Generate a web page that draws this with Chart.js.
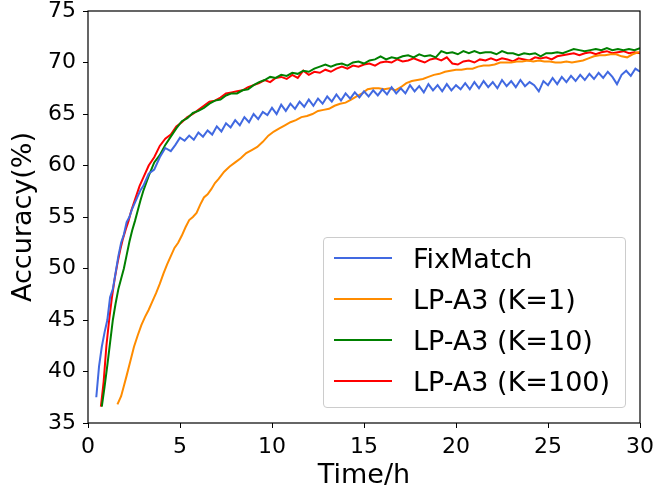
<!DOCTYPE html>
<html>
<head>
<meta charset="utf-8">
<script src="https://cdn.jsdelivr.net/npm/chart.js@4.4.0/dist/chart.umd.min.js"></script>
<style>
  html, body { margin: 0; padding: 0; background: #fff; }
  #wrap { position: relative; width: 657px; height: 488px; }
  #legend {
    position: absolute; left: 323px; top: 237px; width: 301px; height: 169px;
    border: 1px solid #cccccc; border-radius: 4px; background: rgba(255,255,255,0.8);
    font-family: 'DejaVu Sans', sans-serif; font-size: 27px; color: #000;
    padding-top: 0; box-sizing: content-box;
  }
  #legend .row { position: relative; height: 41px; line-height: 41px; }
  #legend .swatch { position: absolute; left: 10px; top: 19px; width: 58px; height: 0; border-top: 2.5px solid; }
  #legend .label { position: absolute; left: 89px; top: 0; white-space: nowrap; }
</style>
</head>
<body>
<div id="wrap">
  <canvas id="chart" width="657" height="488"></canvas>
  <div id="legend"></div>
</div>
<script>
const seriesNames = ['FixMatch', 'LP-A3 (K=1)', 'LP-A3 (K=10)', 'LP-A3 (K=100)'];
const seriesColors = ['#4169e1', '#ff8c00', '#008000', '#ff0000'];
const xTicks = [0, 5, 10, 15, 20, 25, 30];
const yTicks = [35, 40, 45, 50, 55, 60, 65, 70, 75];

// FixMatch
const fixmatchTime = [0.45, 0.6, 0.75, 0.9, 1.05, 1.2, 1.35, 1.5, 1.65, 1.8, 1.95, 2.1, 2.25, 2.4, 2.55, 2.7, 2.85,
  3.0, 3.3, 3.6, 3.9, 4.2, 4.5,
  4.75, 5.0, 5.25, 5.5, 5.75, 6.0, 6.25, 6.5, 6.75, 7.0, 7.25, 7.5, 7.75, 8.0, 8.25, 8.5, 8.75, 9.0, 9.25, 9.5, 9.75,
  10.0, 10.25, 10.5, 10.75, 11.0, 11.25, 11.5, 11.75, 12.0, 12.25, 12.5, 12.75, 13.0, 13.25, 13.5, 13.75, 14.0, 14.25,
  14.5, 14.75, 15.0, 15.25, 15.5, 15.75, 16.0, 16.25, 16.5, 16.75, 17.0, 17.25, 17.5, 17.75, 18.0, 18.25, 18.5, 18.75,
  19.0, 19.25, 19.5, 19.75, 20.0, 20.25, 20.5, 20.75, 21.0, 21.25, 21.5, 21.75, 22.0, 22.25, 22.5, 22.75, 23.0, 23.25,
  23.5, 23.75, 24.0, 24.25, 24.5, 24.75, 25.0, 25.25, 25.5, 25.75, 26.0, 26.25, 26.5, 26.75, 27.0, 27.25, 27.5, 27.75,
  28.0, 28.25, 28.5, 28.75, 29.0, 29.25, 29.5, 29.75, 30.0];
const fixmatchAcc = [37.5, 40.5, 42.4, 43.8, 45.0, 47.2, 48.0, 49.6, 51.2, 52.5, 53.3, 54.5, 55.0, 55.8, 56.4, 57.0, 57.6,
  58.0, 59.2, 59.6, 60.8, 61.7, 61.4,
  62.0, 62.7, 62.4, 62.9, 62.5, 63.2, 62.8, 63.4, 63.0, 63.8, 63.3, 64.1, 63.7, 64.4, 63.9, 64.7, 64.2, 65.0, 64.5, 65.2, 64.9,
  65.6, 65.0, 65.9, 65.3, 66.0, 65.5, 66.2, 65.7, 66.4, 65.8, 66.5, 66.0, 66.7, 66.2, 66.9, 66.3, 67.0, 66.5,
  67.1, 66.6, 67.2, 66.7, 67.3, 66.8, 67.4, 66.9, 67.6, 67.0, 67.5, 67.0, 67.8, 67.2, 67.7, 67.1, 67.9, 67.3,
  67.8, 67.2, 67.9, 67.3, 67.8, 67.4, 68.0, 67.4, 68.1, 67.5, 68.2, 67.6, 68.1, 67.5, 68.3, 67.7, 68.2, 67.6,
  68.3, 67.7, 68.1, 67.8, 67.2, 68.2, 67.8, 68.5, 67.9, 68.6, 68.1, 68.7, 68.2, 68.8, 68.3, 68.9, 68.4, 69.0,
  68.5, 69.1, 68.6, 67.9, 68.8, 69.2, 68.7, 69.4, 69.1];

// LP-A3 (K=1)
const k1Time = [1.6, 1.8, 1.95, 2.1, 2.3, 2.5, 2.7, 2.9, 3.1, 3.3, 3.5, 3.7, 3.9, 4.1, 4.3, 4.5, 4.7, 4.9, 5.1, 5.3, 5.5,
  5.7, 5.9, 6.1, 6.3, 6.5, 6.7, 6.9, 7.1, 7.4, 7.7, 8.0, 8.3, 8.6, 8.9, 9.2, 9.5, 9.8, 10.1, 10.4, 10.7, 11.0, 11.3, 11.6,
  11.9, 12.2, 12.5, 12.8, 13.1, 13.4, 13.7, 14.0, 14.3, 14.6, 14.9, 15.2, 15.5, 15.8, 16.1, 16.4, 16.7, 17.0, 17.3, 17.6,
  17.9, 18.2, 18.5, 18.8, 19.1, 19.4, 19.7, 20.0, 20.3, 20.6, 20.9, 21.2, 21.5, 21.8, 22.1, 22.4, 22.7, 23.0, 23.3, 23.6,
  23.9, 24.2, 24.5, 24.8, 25.1, 25.4, 25.7, 26.0, 26.3, 26.6, 26.9, 27.2, 27.5, 27.8, 28.1, 28.4, 28.7, 29.0, 29.3, 29.6,
  29.9, 30.0];
const k1Acc = [36.8, 37.6, 38.6, 39.6, 41.0, 42.4, 43.5, 44.5, 45.3, 46.0, 46.8, 47.6, 48.5, 49.5, 50.4, 51.2, 52.0, 52.5, 53.2, 54.0, 54.7,
  55.0, 55.4, 56.2, 56.9, 57.2, 57.7, 58.3, 58.7, 59.4, 59.9, 60.3, 60.7, 61.2, 61.5, 61.8, 62.3, 62.9, 63.3, 63.6, 63.9, 64.2, 64.4, 64.7,
  64.8, 65.0, 65.3, 65.4, 65.5, 65.8, 66.0, 66.1, 66.4, 66.7, 67.0, 67.4, 67.5, 67.5, 67.4, 67.5, 67.3, 67.6, 68.0, 68.2,
  68.3, 68.4, 68.6, 68.8, 68.9, 69.1, 69.2, 69.3, 69.3, 69.4, 69.4, 69.6, 69.7, 69.7, 69.8, 70.0, 70.0, 70.0, 70.1, 70.1,
  70.2, 70.1, 70.2, 70.1, 70.1, 70.0, 70.0, 70.1, 70.0, 70.1, 70.2, 70.4, 70.6, 70.7, 70.7, 70.8, 70.8, 70.6, 70.5, 70.8,
  71.0, 71.0];

// LP-A3 (K=10)
const k10Time = [0.75, 0.9, 1.05, 1.2, 1.35, 1.5, 1.65, 1.8, 1.95, 2.1, 2.25, 2.4, 2.55, 2.7, 2.85,
  3.0, 3.3, 3.6, 3.9, 4.2, 4.5, 4.8, 5.1, 5.4, 5.7, 6.0, 6.3, 6.6, 6.9, 7.2, 7.5, 7.8, 8.1, 8.4, 8.7, 9.0, 9.3, 9.6, 9.9,
  10.2, 10.5, 10.8, 11.1, 11.4, 11.7, 12.0, 12.3, 12.6, 12.9, 13.2, 13.5, 13.8, 14.1, 14.4, 14.7, 15.0, 15.3, 15.6, 15.9,
  16.2, 16.5, 16.8, 17.1, 17.4, 17.7, 18.0, 18.3, 18.6, 18.9, 19.2, 19.5, 19.8, 20.1, 20.4, 20.7, 21.0, 21.3, 21.6, 21.9,
  22.2, 22.5, 22.8, 23.1, 23.4, 23.7, 24.0, 24.3, 24.6, 24.9, 25.2, 25.5, 25.8, 26.1, 26.4, 26.7, 27.0, 27.3, 27.6, 27.9,
  28.2, 28.5, 28.8, 29.1, 29.4, 29.7, 30.0];
const k10Acc = [36.6, 38.5, 40.6, 42.8, 45.0, 46.6, 48.0, 49.0, 50.0, 51.3, 52.6, 53.7, 54.6, 55.6, 56.6,
  57.5, 59.0, 60.3, 61.0, 62.0, 62.8, 63.6, 64.3, 64.6, 65.1, 65.3, 65.6, 66.0, 66.3, 66.4, 66.8, 67.0, 67.0, 67.3, 67.4, 67.8, 68.1, 68.3, 68.6,
  68.5, 68.8, 68.7, 69.0, 68.9, 69.2, 69.1, 69.4, 69.6, 69.8, 69.6, 69.8, 69.9, 69.7, 70.0, 70.1, 69.9, 70.2, 70.3, 70.6,
  70.3, 70.5, 70.4, 70.6, 70.7, 70.5, 70.8, 70.6, 70.7, 70.5, 71.1, 70.9, 71.0, 70.8, 71.1, 70.9, 71.1, 70.9, 71.0, 71.0,
  70.8, 71.1, 70.9, 70.9, 70.7, 70.9, 70.8, 70.9, 70.6, 70.9, 70.9, 71.0, 70.9, 71.1, 71.3, 71.2, 71.1, 71.2, 71.3, 71.2,
  71.4, 71.2, 71.3, 71.2, 71.3, 71.2, 71.4];

// LP-A3 (K=100)
const k100Time = [0.7, 0.85, 1.0, 1.15, 1.3, 1.45, 1.6, 1.75, 1.9, 2.05, 2.2, 2.35, 2.5, 2.65, 2.8,
  3.0, 3.3, 3.6, 3.9, 4.2, 4.5, 4.8, 5.1, 5.4, 5.7, 6.0, 6.3, 6.6, 6.9, 7.2, 7.5, 7.8, 8.1, 8.4, 8.7, 9.0, 9.3, 9.6, 9.9,
  10.2, 10.5, 10.8, 11.1, 11.4, 11.7, 12.0, 12.3, 12.6, 12.9, 13.2, 13.5, 13.8, 14.1, 14.4, 14.7, 15.0, 15.3, 15.6, 15.9,
  16.2, 16.5, 16.8, 17.1, 17.4, 17.7, 18.0, 18.3, 18.6, 18.9, 19.2, 19.5, 19.8, 20.1, 20.4, 20.7, 21.0, 21.3, 21.6, 21.9,
  22.2, 22.5, 22.8, 23.1, 23.4, 23.7, 24.0, 24.3, 24.6, 24.9, 25.2, 25.5, 25.8, 26.1, 26.4, 26.7, 27.0, 27.3, 27.6, 27.9,
  28.2, 28.5, 28.8, 29.1, 29.4, 29.7, 30.0];
const k100Acc = [36.6, 39.0, 42.5, 45.0, 47.2, 49.0, 50.5, 51.8, 52.9, 53.8, 54.6, 55.6, 56.4, 57.2, 58.0,
  58.8, 60.0, 60.8, 61.9, 62.6, 63.0, 63.8, 64.2, 64.7, 65.0, 65.4, 65.8, 66.2, 66.3, 66.6, 67.0, 67.1, 67.2, 67.3, 67.6, 67.8, 68.0, 68.3, 68.1,
  68.5, 68.6, 68.4, 68.8, 68.5, 69.2, 68.8, 69.1, 69.0, 69.3, 69.1, 69.4, 69.6, 69.4, 69.7, 69.6, 69.8, 69.9, 69.7, 70.0,
  70.1, 70.0, 70.3, 70.1, 70.2, 70.4, 70.2, 70.0, 70.3, 70.4, 70.2, 70.5, 69.9, 69.8, 70.1, 70.2, 70.0, 70.3, 70.2, 70.4,
  70.2, 70.4, 70.3, 70.1, 70.4, 70.3, 70.2, 70.5, 70.4, 70.5, 70.3, 70.6, 70.7, 70.8, 70.9, 70.7, 70.9, 71.0, 70.8, 71.0,
  71.1, 70.9, 71.0, 71.1, 70.9, 71.0, 70.9];

const seriesTime = [fixmatchTime, k1Time, k10Time, k100Time];
const seriesAcc = [fixmatchAcc, k1Acc, k10Acc, k100Acc];

function toPoints(xs, ys) {
  return xs.map((x, i) => ({ x: x, y: ys[i] }));
}

const datasets = seriesNames.map((name, i) => ({
  label: name,
  data: toPoints(seriesTime[i], seriesAcc[i]),
  borderColor: seriesColors[i],
  backgroundColor: seriesColors[i],
  borderWidth: 2,
  pointRadius: 0,
  tension: 0,
  fill: false
}));

// draw the full box around the plot, like matplotlib spines
const frame = {
  id: 'frame',
  afterDraw(chart) {
    const a = chart.chartArea;
    const ctx = chart.ctx;
    ctx.save();
    ctx.strokeStyle = '#000';
    ctx.lineWidth = 1.2;
    ctx.strokeRect(a.left, a.top, a.right - a.left, a.bottom - a.top);
    ctx.restore();
  }
};

const font = 'DejaVu Sans';

new Chart('chart', {
  type: 'line',
  data: { datasets: datasets },
  plugins: [frame],
  options: {
    responsive: false,
    animation: false,
    layout: { padding: { top: 11, right: 17, left: 0, bottom: 0 } },
    plugins: { legend: { display: false }, tooltip: { enabled: false } },
    scales: {
      x: {
        type: 'linear',
        min: 0, max: 30,
        afterBuildTicks: (s) => { s.ticks = xTicks.map(v => ({ value: v })); },
        afterFit: (s) => { s.height = 65; s.paddingLeft = 0; s.paddingRight = 0; },
        ticks: { color: '#000', font: { family: font, size: 22, lineHeight: 1 }, padding: 8, maxRotation: 0 },
        grid: { drawOnChartArea: false, drawTicks: true, tickLength: 5, color: '#000' },
        border: { display: false },
        title: { display: true, text: 'Time/h', color: '#000', font: { family: font, size: 27, lineHeight: 0.9 }, padding: { top: 0, bottom: 0 } }
      },
      y: {
        min: 35, max: 75,
        afterBuildTicks: (s) => { s.ticks = yTicks.map(v => ({ value: v })); },
        afterFit: (s) => { s.width = 88; s.paddingTop = 0; s.paddingBottom = 0; },
        ticks: { color: '#000', font: { family: font, size: 22, lineHeight: 1 }, padding: 7 },
        grid: { drawOnChartArea: false, drawTicks: true, tickLength: 5, color: '#000' },
        border: { display: false },
        title: { display: true, text: 'Accuracy(%)', color: '#000', font: { family: font, size: 27 }, padding: { top: 8, bottom: 0 } }
      }
    }
  }
});

// legend inside the plot, lower right
const legendBox = document.getElementById('legend');
seriesNames.forEach((name, i) => {
  const row = document.createElement('div');
  row.className = 'row';
  const sw = document.createElement('span');
  sw.className = 'swatch';
  sw.style.borderTopColor = seriesColors[i];
  const lb = document.createElement('span');
  lb.className = 'label';
  lb.textContent = name;
  row.appendChild(sw);
  row.appendChild(lb);
  legendBox.appendChild(row);
});
</script>
</body>
</html>
